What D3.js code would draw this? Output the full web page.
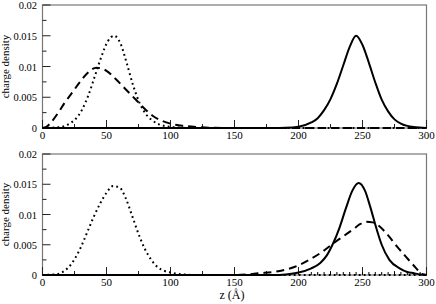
<!DOCTYPE html>
<html>
<head>
<meta charset="utf-8">
<script src="https://cdn.jsdelivr.net/npm/d3@7"></script>
<style>
  body { margin: 0; background: #fff; }
</style>
</head>
<body>
<svg id="chart" width="436" height="304" font-family="'Liberation Serif', 'Times New Roman', Times, serif"></svg>
<script>
// ticks
var xTicks = [0, 50, 100, 150, 200, 250, 300];
var yTicks = [0, 0.005, 0.01, 0.015, 0.02];
var yTickLabels = ["0", "0.005", "0.01", "0.015", "0.02"];

// top panel, [z, density]
var topSolid = [[0,0],[180,0],[190,0.00003],[200,0.0002],[210,0.0009],[215,0.0016],[220,0.0029],[225,0.0047],[230,0.0072],[235,0.0102],[240,0.0132],[245,0.0150],[250,0.0135],[255,0.0106],[260,0.0074],[265,0.0046],[270,0.0027],[275,0.0014],[280,0.0007],[290,0.00015],[300,0.00002]];
var topDotted = [[0,0],[6,0.00003],[11,0.0001],[16,0.00025],[21,0.0007],[26,0.0015],[31,0.0030],[36,0.0054],[41,0.0085],[46,0.0116],[51,0.0141],[56,0.0150],[61,0.0137],[66,0.0104],[71,0.0068],[76,0.0040],[81,0.0022],[86,0.0012],[91,0.0006],[96,0.0003],[101,0.00015],[111,0.00004],[125,0],[300,0]];
var topDashed = [[0,0],[3,0.0002],[7,0.0010],[12,0.0024],[17,0.0040],[23,0.0057],[29,0.0074],[35,0.0089],[42,0.0098],[50,0.0093],[57,0.0080],[64,0.0065],[72,0.0048],[79,0.0033],[86,0.0020],[93,0.0012],[100,0.0007],[108,0.0004],[118,0.0002],[130,0.00005],[150,0],[300,0]];

// bottom panel, [z, density]
var botSolid = [[0,0],[180,0],[190,0.0001],[200,0.0004],[210,0.0011],[217,0.0020],[222,0.0032],[227,0.0052],[232,0.0078],[237,0.0110],[242,0.0139],[247,0.0152],[252,0.0139],[256,0.0113],[261,0.0076],[265,0.0050],[271,0.0025],[279,0.0011],[285,0.0005],[290,0.0003],[295,0.0001],[300,0]];
var botDotted = [[0,0],[10,0.0001],[15,0.0004],[20,0.0012],[25,0.0026],[30,0.0046],[35,0.0071],[40,0.0096],[45,0.0118],[50,0.0136],[55,0.0147],[60,0.0145],[65,0.0127],[70,0.0098],[75,0.0068],[80,0.0043],[85,0.0025],[90,0.0013],[95,0.0007],[100,0.0004],[110,0.0001],[120,0],[300,0]];
var botDashed = [[0,0],[150,0],[160,0.0001],[170,0.0003],[180,0.0005],[188,0.0008],[195,0.0012],[201,0.0017],[210,0.0027],[219,0.0039],[227,0.0052],[235,0.0064],[243,0.0076],[248,0.0084],[253,0.0088],[258,0.0087],[263,0.0081],[269,0.0068],[277,0.0047],[284,0.0030],[292,0.0011],[296,0.0002],[300,0]];
// small marks the bottom dotted curve leaves just above the baseline
var botDottedMarks = d3.range(210, 299, 5);

var panels = [
  { top: 5, bottom: 128, series: [topSolid, topDotted, topDashed], marks: [] },
  { top: 154, bottom: 275, series: [botSolid, botDotted, botDashed], marks: botDottedMarks }
];
var styles = [
  { dash: null },
  { dash: "1.8,3.2" },
  { dash: "8,5" }
];

var svg = d3.select("#chart");
var left = 42.5, right = 426.5;

var x = d3.scaleLinear().domain([0, 300]).range([left, right]);

panels.forEach(function(p) {
  var y = d3.scaleLinear().domain([0, 0.02]).range([p.bottom, p.top]);
  var g = svg.append("g");

  // frame
  g.append("rect")
    .attr("x", left).attr("y", p.top)
    .attr("width", right - left).attr("height", p.bottom - p.top)
    .attr("fill", "none").attr("stroke", "#777").attr("stroke-width", 1.2);

  // x ticks (inside), major + minor
  d3.range(0, 301, 25).forEach(function(v) {
    var major = v % 50 === 0;
    var len = major ? 8 : 4;
    g.append("line")
      .attr("x1", x(v)).attr("x2", x(v))
      .attr("y1", p.bottom).attr("y2", p.bottom - len)
      .attr("stroke", "#222").attr("stroke-width", 1);
  });
  g.selectAll(".xl").data(xTicks).enter().append("text")
    .attr("x", function(d) { return x(d); })
    .attr("y", p.bottom + 11)
    .attr("text-anchor", "middle")
    .attr("font-size", 11)
    .text(function(d) { return d; });

  // y ticks
  d3.range(0, 0.02001, 0.0025).forEach(function(v, i) {
    var len = i % 2 === 0 ? 8 : 4;
    g.append("line")
      .attr("x1", left).attr("x2", left + len)
      .attr("y1", y(v)).attr("y2", y(v))
      .attr("stroke", "#222").attr("stroke-width", 1);
  });
  g.selectAll(".yl").data(yTicks).enter().append("text")
    .attr("x", left - 5.5)
    .attr("y", function(d) { return y(d) + 4; })
    .attr("text-anchor", "end")
    .attr("font-size", 10.5)
    .text(function(d, i) { return yTickLabels[i]; });

  // y label
  g.append("text")
    .attr("transform", "translate(8.5," + ((p.top + p.bottom) / 2) + ") rotate(-90)")
    .attr("text-anchor", "middle")
    .attr("font-size", 11)
    .text("charge density");

  var line = d3.line()
    .x(function(d) { return x(d[0]); })
    .y(function(d) { return y(d[1]); })
    .curve(d3.curveMonotoneX);

  p.series.forEach(function(s, i) {
    g.append("path")
      .datum(s)
      .attr("d", line)
      .attr("fill", "none")
      .attr("stroke", "#000")
      .attr("stroke-width", 2)
      .attr("stroke-dasharray", styles[i].dash);
  });

  g.selectAll(".mk").data(p.marks).enter().append("line")
    .attr("x1", function(d) { return x(d); })
    .attr("x2", function(d) { return x(d); })
    .attr("y1", y(0))
    .attr("y2", y(0) - 3)
    .attr("stroke", "#000")
    .attr("stroke-width", 1);
});

svg.append("text")
  .attr("x", 232).attr("y", 299)
  .attr("text-anchor", "middle")
  .attr("font-size", 12)
  .text("z (Å)");
</script>
</body>
</html>
